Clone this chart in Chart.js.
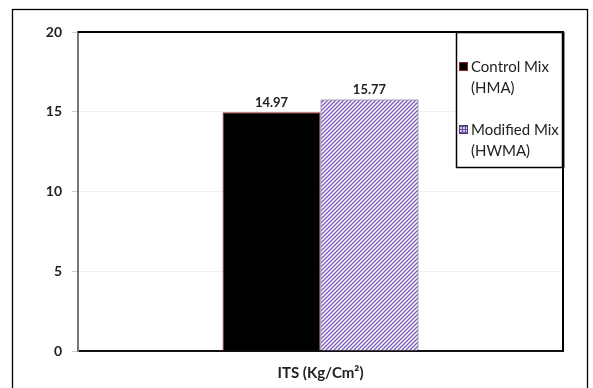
<!DOCTYPE html>
<html>
<head>
<meta charset="utf-8">
<script src="https://cdn.jsdelivr.net/npm/chart.js@4/dist/chart.umd.min.js"></script>
<style>
  html, body { margin: 0; padding: 0; background: #fff; }
  #wrap { width: 593px; height: 388px; position: relative; }
</style>
</head>
<body>
<div id="wrap"><canvas id="c" width="593" height="388"></canvas></div>
<script>
const categories = ["ITS (Kg/Cm²)"];
const seriesNames = ["Control Mix (HMA)", "Modified Mix (HWMA)"];
const controlValues = [14.97];
const modifiedValues = [15.77];
const yTicks = [0, 5, 10, 15, 20];

const FONT = "Lato, 'Open Sans', sans-serif";

function makeHatch() {
  const p = document.createElement('canvas');
  p.width = 4; p.height = 4;
  const g = p.getContext('2d');
  g.fillStyle = '#ffffff';
  g.fillRect(0, 0, 4, 4);
  g.strokeStyle = '#7d5cc0';
  g.lineWidth = 1.3;
  g.beginPath();
  g.moveTo(-1, 5); g.lineTo(5, -1);
  g.moveTo(-1, 1); g.lineTo(1, -1);
  g.moveTo(3, 5); g.lineTo(5, 3);
  g.stroke();
  return p;
}
function makeGrid() {
  const p = document.createElement('canvas');
  p.width = 3; p.height = 3;
  const g = p.getContext('2d');
  g.fillStyle = '#d8c8f0';
  g.fillRect(0, 0, 3, 3);
  g.fillStyle = '#6a4ca8';
  g.fillRect(0, 0, 3, 1);
  g.fillRect(0, 0, 1, 3);
  return p;
}
const ctx0 = document.getElementById('c').getContext('2d');
const hatch = ctx0.createPattern(makeHatch(), 'repeat');
const gridPat = ctx0.createPattern(makeGrid(), 'repeat');

const framePlugin = {
  id: 'frame',
  beforeDraw(chart) {
    const c = chart.ctx;
    c.save();
    c.fillStyle = '#fff';
    c.fillRect(0, 0, chart.width, chart.height);
    c.strokeStyle = '#000';
    c.lineWidth = 1.3;
    c.strokeRect(12.5, 9.5, 575, 400);
    c.restore();
  },
  afterDatasetsDraw(chart) {
    const c = chart.ctx;
    const a = chart.chartArea;
    c.save();
    c.strokeStyle = '#000';
    c.lineWidth = 2;
    c.beginPath();
    c.moveTo(a.left, a.top);
    c.lineTo(a.right, a.top);
    c.lineTo(a.right, a.bottom);
    c.stroke();
    c.font = "bold 13px " + FONT;
    c.fillStyle = '#222';
    c.textAlign = 'center';
    c.textBaseline = 'bottom';
    chart.data.datasets.forEach((ds, i) => {
      const meta = chart.getDatasetMeta(i);
      meta.data.forEach((bar, j) => {
        c.fillText(ds.data[j].toFixed(2), bar.x, bar.y - 3);
      });
    });
    const L = 456, T = 32, R = 563, B = 167;
    c.fillStyle = '#fff';
    c.fillRect(L, T, R - L, B - T);
    c.strokeStyle = '#000';
    c.lineWidth = 1.5;
    c.strokeRect(L + 0.5, T + 0.5, R - L, B - T);
    c.lineWidth = 2.5;
    c.beginPath();
    c.moveTo(R, T); c.lineTo(R, B + 1);
    c.stroke();
    c.font = "15px " + FONT;
    c.textAlign = 'left';
    c.textBaseline = 'middle';
    const rows = [67, 130];
    const swatches = ['#000000', gridPat];
    chart.data.datasets.forEach((ds, i) => {
      const y = rows[i];
      const parts = ds.label.split(' (');
      c.fillStyle = swatches[i];
      c.fillRect(459, y - 5, 9, 9);
      c.strokeStyle = ds.borderColor;
      c.lineWidth = 1;
      c.strokeRect(459.5, y - 4.5, 8, 8);
      c.fillStyle = '#222';
      c.fillText(parts[0], 471, y);
      c.fillText('(' + parts[1], 471, y + 21);
    });
    c.restore();
  }
};

new Chart(document.getElementById('c'), {
  type: 'bar',
  data: {
    labels: categories,
    datasets: [
      {
        label: seriesNames[0],
        data: controlValues,
        backgroundColor: '#000000',
        borderColor: '#9a2020',
        borderWidth: 1,
        categoryPercentage: 0.404,
        barPercentage: 1
      },
      {
        label: seriesNames[1],
        data: modifiedValues,
        backgroundColor: hatch,
        borderColor: '#4a4060',
        borderWidth: 1,
        categoryPercentage: 0.404,
        barPercentage: 1
      }
    ]
  },
  options: {
    responsive: false,
    animation: false,
    devicePixelRatio: 1,
    layout: { padding: { left: 0, top: 32, right: 30, bottom: 0 } },
    plugins: {
      legend: { display: false },
      tooltip: { enabled: false },
      title: { display: false }
    },
    scales: {
      x: {
        grid: { display: false, drawTicks: false },
        border: { display: true, color: '#111', width: 2 },
        ticks: {
          padding: 13,
          color: '#222',
          font: { family: FONT, size: 15, weight: 'bold' }
        },
        afterFit(s) { s.height = 37; }
      },
      y: {
        min: 0,
        max: 20,
        afterBuildTicks(s) { s.ticks = yTicks.map(v => ({ value: v })); },
        grid: {
          color: '#efefef',
          lineWidth: 1,
          drawTicks: true,
          tickLength: 6,
          tickColor: '#cccccc'
        },
        border: { display: true, color: '#777', width: 2 },
        ticks: {
          padding: 10,
          color: '#222',
          font: { family: FONT, size: 14, weight: 'bold' }
        },
        afterFit(s) { s.width = 78; }
      }
    }
  },
  plugins: [framePlugin]
});
</script>
</body>
</html>
